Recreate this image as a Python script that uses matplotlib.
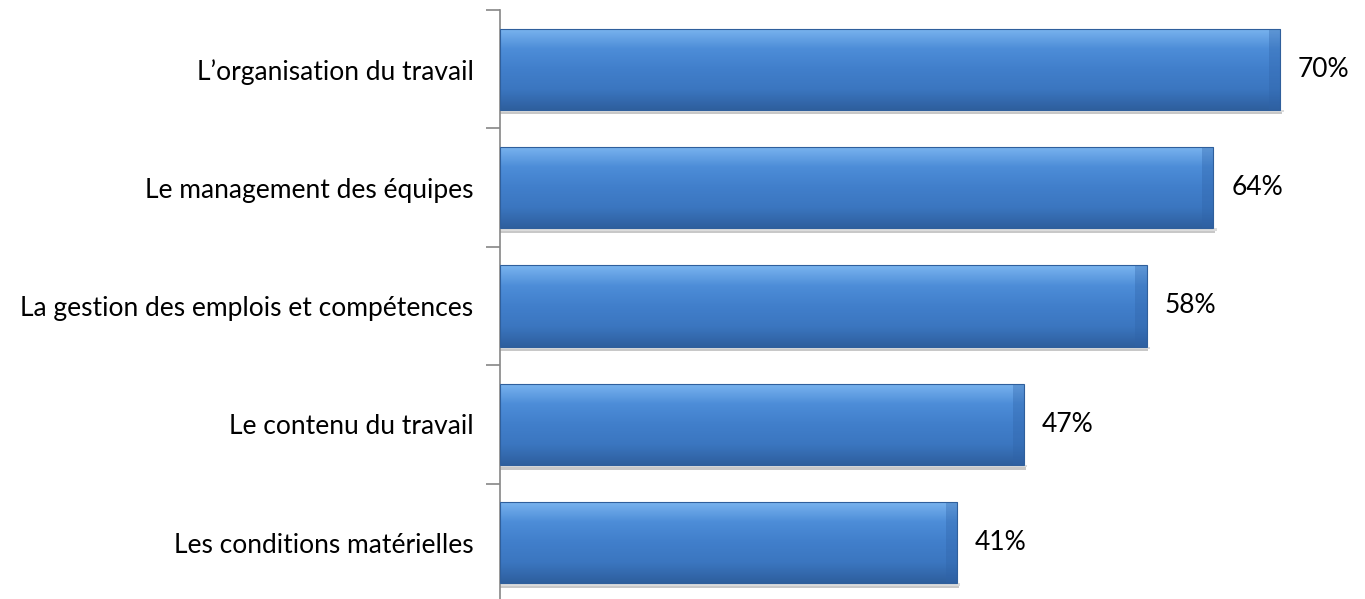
import numpy as np
import matplotlib.pyplot as plt
from matplotlib.colors import LinearSegmentedColormap
from matplotlib.patches import Rectangle

categories = ["L\u2019organisation du travail", "Le management des équipes",
              "La gestion des emplois et compétences", "Le contenu du travail",
              "Les conditions matérielles"]
values = [70, 64, 58, 47, 41]

plt.rcParams['font.family'] = ['Lato', 'DejaVu Sans']

fig = plt.figure(figsize=(13.65, 5.99), dpi=100, facecolor='w')
ax = fig.add_axes([500 / 1365, -3 / 599, 865 / 1365, 592 / 599])

y = np.arange(len(categories))
h = 0.685
bars = ax.barh(y, values, height=h, color='#3f7cc9', zorder=2)

# vertical gradient + bevel look for each bar
cmap = LinearSegmentedColormap.from_list(
    'bev', ['#7ab4ef', '#4d8dd8', '#417fcb', '#3b76c0', '#2e5f9e'])
grad = np.linspace(0, 1, 100).reshape(-1, 1)
for b in bars:
    x0, y0 = b.get_x(), b.get_y()
    w, hh = b.get_width(), b.get_height()
    # soft shadow
    ax.add_patch(Rectangle((x0, y0 + hh), w + 0.15, 0.04, color='#c8c8c8',
                           zorder=1, lw=0))
    ax.add_patch(Rectangle((x0, y0 + hh), w + 0.3, 0.02, color='#dcdcdc',
                           zorder=1, lw=0))
    im = ax.imshow(grad, cmap=cmap, aspect='auto',
                   extent=(x0, x0 + w, y0 + hh, y0), zorder=3)
    im.set_clip_path(b)
    # right edge bevel
    ax.add_patch(Rectangle((x0 + w - 1.0, y0), 1.0, hh, color='#2f63a8',
                           alpha=0.35, zorder=4, lw=0))
    b.set_edgecolor('#2f5f9c')
    b.set_linewidth(0.8)
    b.set_zorder(5)
    b.set_facecolor('none')

for yi, v in zip(y, values):
    ax.text(v + 1.6, yi, f"{v}%", va='center', ha='left', fontsize=19,
            color='#000000')

ax.set_xlim(0, 77.6)
ax.set_ylim(len(categories) - 0.5, -0.5)
ax.set_yticks(np.arange(len(categories) + 1) - 0.5, minor=False)
ax.set_yticklabels([])
ax.set_yticks(y, minor=True)
ax.set_yticklabels(categories, minor=True, fontsize=19, color='#000000')
ax.tick_params(axis='y', which='major', length=10, width=1.2, color='#868686',
               direction='out')
ax.tick_params(axis='y', which='minor', length=0, pad=19)
ax.set_xticks([])
for s in ['top', 'right', 'bottom']:
    ax.spines[s].set_visible(False)
ax.spines['left'].set_color('#868686')
ax.spines['left'].set_linewidth(1.2)

fig.savefig('out.png', dpi=100)
